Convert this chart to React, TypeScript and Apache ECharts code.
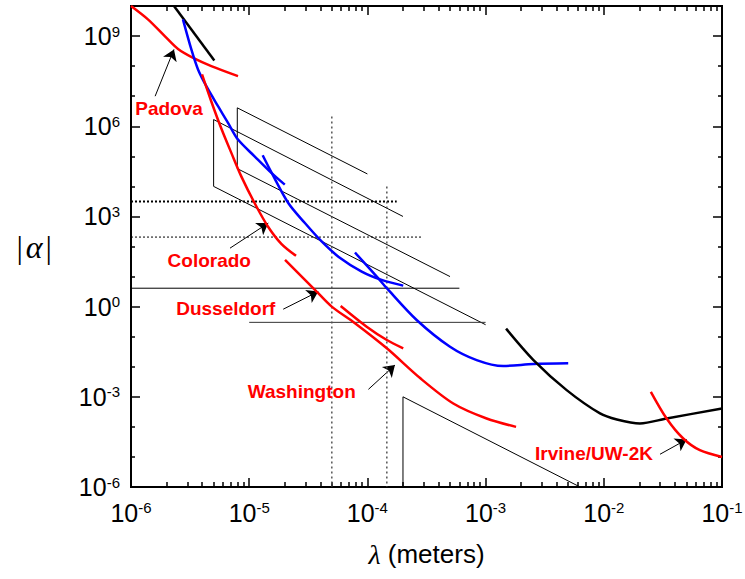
import React, { useEffect, useRef } from "react";
import * as echarts from "echarts";

// ---- axis ticks / labels ----
const xDecades = [1e-6, 1e-5, 1e-4, 1e-3, 1e-2, 1e-1];
const xMinorMultipliers = [2, 3, 4, 5, 6, 7, 8, 9];
const yLabelTicks = [1e-6, 1e-3, 1, 1e3, 1e6, 1e9];
const yMinorTicks = [1e-5, 1e-4, 1e-2, 1e-1, 10, 100, 1e4, 1e5, 1e7, 1e8];

// ---- curves: [lambda (m), |alpha|] ----
const blackTopLeft = [
  [2.31e-6, 1e10],
  [5.07e-6, 1.55e8],
];
const redPadova = [
  [1e-6, 1e10],
  [1.39e-6, 3.6e9],
  [1.93e-6, 1e9],
  [2.5e-6, 3.74e8],
  [3.46e-6, 1.77e8],
  [4.78e-6, 1e8],
  [8.04e-6, 4.64e7],
];
const blueUpper = [
  [2.75e-6, 3.6e9],
  [3.24e-6, 3.6e8],
  [3.69e-6, 7.76e7],
  [4.34e-6, 2.15e7],
  [5.45e-6, 4.64e6],
  [6.62e-6, 1.3e6],
  [8.04e-6, 3.6e5],
  [1.11e-5, 1e5],
  [1.54e-5, 2.8e4],
  [2.0e-5, 1.14e4],
];
const blueMiddle = [
  [1.3e-5, 1.08e5],
  [1.55e-5, 2.8e4],
  [2.14e-5, 2.8e3],
  [2.96e-5, 603],
  [4.1e-5, 147],
  [5.68e-5, 46],
  [8.95e-5, 14.7],
  [1.32e-4, 7.76],
  [2.01e-4, 5.0],
];
const blueLower = [
  [7.85e-5, 63],
  [1.2e-4, 10],
  [1.46e-4, 4.1],
  [2.61e-4, 0.36],
  [5e-4, 0.0464],
  [8.4e-4, 0.0167],
  [1.41e-3, 0.0106],
  [2.54e-3, 0.0123],
  [5e-3, 0.013],
];
const blackRight = [
  [1.49e-3, 0.185],
  [2.54e-3, 0.0167],
  [4.85e-3, 1.67e-3],
  [9.29e-3, 2.8e-4],
  [1.29e-2, 1.77e-4],
  [2.02e-2, 1.3e-4],
  [3.4e-2, 1.9e-4],
  [0.1, 4.1e-4],
];
const redIrvine = [
  [2.5e-2, 1.47e-3],
  [3.4e-2, 1.9e-4],
  [4.7e-2, 4.1e-5],
  [6.5e-2, 1.67e-5],
  [0.1, 1e-5],
];
const redColorado = [
  [3.99e-6, 5.3e7],
  [4.78e-6, 6.65e6],
  [5.81e-6, 8.4e5],
  [7.06e-6, 1.3e5],
  [8.57e-6, 2.15e4],
  [1.11e-5, 2.8e3],
  [1.44e-5, 464],
  [1.87e-5, 123],
  [2.49e-5, 49],
];
const redDusseldorf = [
  [2.01e-5, 36],
  [3.72e-5, 3.16],
  [4.99e-5, 1],
  [7.85e-5, 0.28],
  [1.46e-4, 0.041],
  [2.79e-4, 4.2e-3],
  [5.33e-4, 6.0e-4],
  [1.02e-3, 1.9e-4],
  [1.81e-3, 1e-4],
];
const redWashington = [
  [5.94e-5, 1.05],
  [9.86e-5, 0.215],
  [1.46e-4, 0.0776],
  [2.01e-4, 0.041],
];

// ---- thin black limit outlines ----
const outlineA = [
  [1e-4, 2.59e4],
  [7.93e-6, 4.1e6],
  [7.93e-6, 3.9e4],
  [5e-4, 10],
];
const outlineB = [
  [2e-4, 1e3],
  [5e-6, 1.67e6],
  [5e-6, 1e4],
  [1e-3, 0.25],
];
const outlineC = [
  [2e-4, 1e-6],
  [2e-4, 1e-3],
  [6.3e-3, 1e-6],
];
const hThickDotted = [
  [1e-6, 3162],
  [1.77e-4, 3162],
];
const hThinDotted = [
  [1e-6, 206],
  [2.9e-4, 206],
];
const hSolidUpper = [
  [1e-6, 4.1],
  [6e-4, 4.1],
];
const hSolidLower = [
  [1e-5, 0.3],
  [1e-3, 0.3],
];
const vDottedA = [
  [5e-5, 2.1e6],
  [5e-5, 1e-6],
];
const vDottedB = [
  [1.46e-4, 1e4],
  [1.46e-4, 1e-6],
];

// ---- annotations ----
const labelNames = ["Padova", "Colorado", "Dusseldorf", "Washington", "Irvine/UW-2K"];
const labelPositions = [
  [2.12e-6, 3.8e6],
  [4.64e-6, 33],
  [6.4e-6, 0.82],
  [2.81e-5, 1.47e-3],
  [8.34e-3, 1.3e-5],
];
const arrowCoords = [
  [[1.6e-6, 1e7], [2.31e-6, 3.6e8]],
  [[6.88e-6, 88], [1.45e-5, 603]],
  [[1.94e-5, 0.82], [3.84e-5, 3.16]],
  [[1.02e-4, 1.77e-3], [1.71e-4, 0.0114]],
  [[2.99e-2, 1.23e-5], [5.02e-2, 3.8e-5]],
];

const FONT = "'Liberation Sans', Arial, Helvetica, sans-serif";
const SERIF = "'Liberation Serif', 'Times New Roman', serif";
const RED = "#ff0000";
const BLUE = "#0000ff";

const xMinorTicks: number[] = [];
xDecades.slice(0, -1).forEach((d) => xMinorMultipliers.forEach((m) => xMinorTicks.push(m * d)));

const tickRich = {
  b: { fontSize: 25, lineHeight: 25, fontFamily: FONT, color: "#000" },
  s: { fontSize: 15, lineHeight: 8, verticalAlign: "top", fontFamily: FONT, color: "#000" },
};
const powLabel = (v: number) => `{b|10}{s|${Math.round(Math.log10(v))}}`;

function makeXAxis(position: string, ticks: number[], len: number, withLabel: boolean, extra: any = {}) {
  return {
    type: "log",
    logBase: 10,
    position,
    min: 1e-6,
    max: 0.1,
    axisLine: { show: true, lineStyle: { color: "#000", width: 2 } },
    axisTick: { show: true, inside: true, length: len, customValues: ticks, lineStyle: { color: "#000", width: 1.5 } },
    axisLabel: withLabel
      ? { show: true, customValues: ticks, formatter: powLabel, margin: 13, rich: tickRich }
      : { show: false },
    splitLine: { show: false },
    minorTick: { show: false },
    ...extra,
  };
}
function makeYAxis(position: string, ticks: number[], len: number, withLabel: boolean, extra: any = {}) {
  return {
    type: "log",
    logBase: 10,
    position,
    min: 1e-6,
    max: 1e10,
    axisLine: { show: true, lineStyle: { color: "#000", width: 2 } },
    axisTick: { show: true, inside: true, length: len, customValues: ticks, lineStyle: { color: "#000", width: 1.5 } },
    axisLabel: withLabel
      ? { show: true, customValues: ticks, formatter: powLabel, margin: 11, rich: tickRich }
      : { show: false },
    splitLine: { show: false },
    minorTick: { show: false },
    ...extra,
  };
}

function line(data: number[][], color: string, width: number, type: any = "solid", smooth: number = 0) {
  return {
    type: "line",
    data,
    xAxisIndex: 0,
    yAxisIndex: 0,
    symbol: "none",
    showSymbol: false,
    smooth,
    silent: true,
    lineStyle: { color, width, type },
  };
}

export default function App() {
  const ref = useRef<HTMLDivElement>(null);
  useEffect(() => {
    if (!ref.current) return;
    const chart = echarts.init(ref.current, undefined, { renderer: "svg" });
    const option: any = {
      animation: false,
      backgroundColor: "#fff",
      textStyle: { fontFamily: FONT },
      grid: { left: 131, right: 23, top: 6, bottom: 92, containLabel: false, outerBoundsMode: "none" },
      xAxis: [
        makeXAxis("bottom", xDecades, 9, true, {
          name: "{l|λ} {m|(meters)}",
          nameLocation: "middle",
          nameGap: 53,
          nameTextStyle: {
            fontSize: 26,
            fontFamily: FONT,
            color: "#000",
            rich: {
              l: { fontFamily: SERIF, fontStyle: "italic", fontSize: 28, color: "#000" },
              m: { fontFamily: FONT, fontSize: 26, color: "#000" },
            },
          },
        }),
        makeXAxis("bottom", xMinorTicks, 5, false),
        makeXAxis("top", xDecades, 9, false),
        makeXAxis("top", xMinorTicks, 5, false),
      ],
      yAxis: [
        makeYAxis("left", yLabelTicks, 9, true, {
          name: "{a||}{g|α}{a||}",
          nameLocation: "middle",
          nameRotate: 0,
          nameGap: 79,
          nameTextStyle: {
            fontSize: 32,
            color: "#000",
            rich: {
              a: { fontFamily: SERIF, fontSize: 32, color: "#000" },
              g: { fontFamily: SERIF, fontStyle: "italic", fontSize: 32, color: "#000", padding: [0, 3, 0, 3] },
            },
          },
        }),
        makeYAxis("left", yMinorTicks, 4, false),
        makeYAxis("right", yLabelTicks, 9, false),
        makeYAxis("right", yMinorTicks, 4, false),
      ],
      series: [
        line(outlineA, "#000", 1),
        line(outlineB, "#000", 1),
        line(outlineC, "#000", 1),
        line(hThickDotted, "#000", 2, [2, 2]),
        line(hThinDotted, "#000", 1, [2, 2]),
        line(hSolidUpper, "#000", 1),
        line(hSolidLower, "#333", 1),
        line(vDottedA, "#555", 1.5, [2, 3]),
        line(vDottedB, "#555", 1.5, [2, 3]),
        line(blackTopLeft, "#000", 2.5),
        line(redPadova, RED, 2.5, "solid", 0.3),
        line(blueUpper, BLUE, 2.5, "solid", 0.3),
        line(blueMiddle, BLUE, 2.5, "solid", 0.3),
        line(blueLower, BLUE, 2.5, "solid", 0.3),
        line(blackRight, "#000", 2.5, "solid", 0.3),
        line(redIrvine, RED, 2.5, "solid", 0.3),
        line(redColorado, RED, 2.5, "solid", 0.3),
        line(redDusseldorf, RED, 2.5, "solid", 0.3),
        line(redWashington, RED, 2.5, "solid", 0.3),
        {
          type: "lines",
          coordinateSystem: "cartesian2d",
          xAxisIndex: 0,
          yAxisIndex: 0,
          silent: true,
          symbol: ["none", "arrow"],
          symbolSize: 11,
          lineStyle: { color: "#000", width: 1, opacity: 1 },
          itemStyle: { color: "#000" },
          data: arrowCoords.map((c) => ({ coords: c })),
        },
        {
          type: "scatter",
          xAxisIndex: 0,
          yAxisIndex: 0,
          silent: true,
          symbolSize: 1,
          itemStyle: { color: "rgba(0,0,0,0)", opacity: 1 },
          data: labelPositions.map((p, i) => ({ value: p, name: labelNames[i] })),
          label: {
            show: true,
            position: [0, 0],
            align: "center",
            verticalAlign: "middle",
            formatter: (p: any) => p.name,
            color: RED,
            opacity: 1,
            textBorderWidth: 0,
            fontWeight: "bold",
            fontSize: 19,
            fontFamily: FONT,
          },
          z: 10,
        },
      ],
    };
    chart.setOption(option);
    return () => chart.dispose();
  }, []);
  return <div ref={ref} style={{ position: "absolute", left: 0, top: 0, width: 745, height: 579 }} />;
}
